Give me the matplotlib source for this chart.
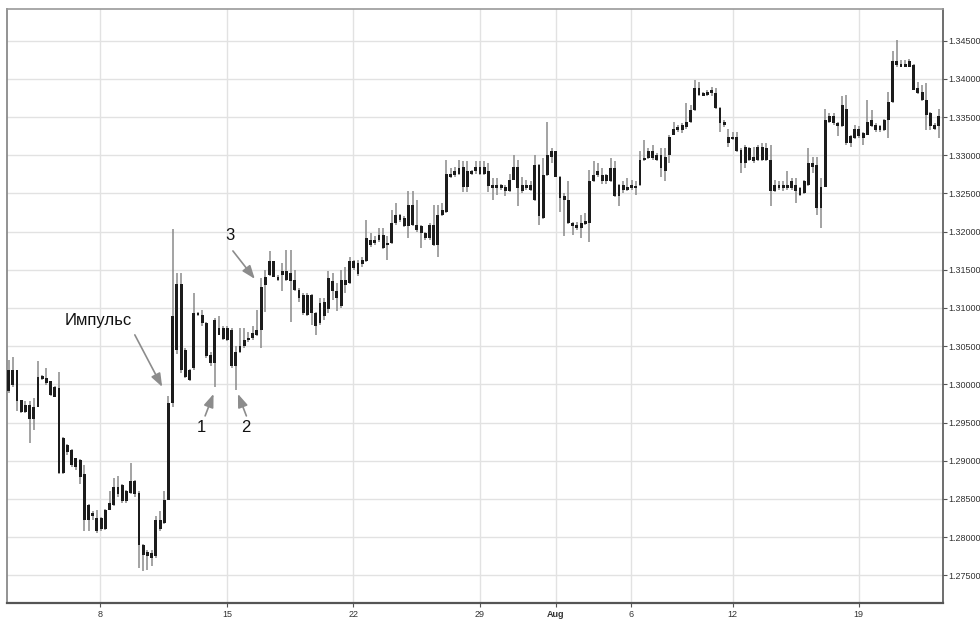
import matplotlib
matplotlib.use('Agg')
import matplotlib.pyplot as plt
import numpy as np

plt.rcParams['font.family'] = ['Liberation Sans', 'DejaVu Sans']

opens = [1.2991, 1.2999, 1.3019, 1.2980, 1.2964, 1.2973, 1.2954, 1.2971, 1.3011, 1.3008,
         1.3004, 1.2984, 1.2995, 1.2884, 1.2921, 1.2914, 1.2892, 1.2901, 1.2882, 1.2823,
         1.2831, 1.2825, 1.2810, 1.2810, 1.2836, 1.2842, 1.2866, 1.2868, 1.2847, 1.2858,
         1.2873, 1.2858, 1.2790, 1.2781, 1.2773, 1.2775, 1.2823, 1.2818, 1.2849, 1.2975,
         1.3045, 1.3132, 1.3045, 1.3019, 1.3021, 1.3093, 1.3091, 1.3080, 1.3039, 1.3028,
         1.3074, 1.3060, 1.3074, 1.3071, 1.3024, 1.3043, 1.3050, 1.3058, 1.3061, 1.3065,
         1.3071, 1.3130, 1.3143, 1.3161, 1.3141, 1.3143, 1.3148, 1.3135, 1.3137, 1.3124,
         1.3117, 1.3091, 1.3117, 1.3093, 1.3080, 1.3108, 1.3099, 1.3135, 1.3122, 1.3102,
         1.3137, 1.3133, 1.3161, 1.3159, 1.3157, 1.3161, 1.3189, 1.3185, 1.3189, 1.3196,
         1.3183, 1.3185, 1.3211, 1.3222, 1.3218, 1.3207, 1.3235, 1.3209, 1.3207, 1.3198,
         1.3191, 1.3209, 1.3183, 1.3222, 1.3226, 1.3276, 1.3274, 1.3276, 1.3285, 1.3259,
         1.3279, 1.3279, 1.3285, 1.3276, 1.3280, 1.3257, 1.3261, 1.3257, 1.3259, 1.3253,
         1.3268, 1.3285, 1.3261, 1.3257, 1.3261, 1.3242, 1.3287, 1.3218, 1.3274, 1.3298,
         1.3305, 1.3272, 1.3246, 1.3242, 1.3211, 1.3209, 1.3205, 1.3211, 1.3211, 1.3266,
         1.3274, 1.3274, 1.3266, 1.3266, 1.3283, 1.3246, 1.3261, 1.3255, 1.3257, 1.3259,
         1.3261, 1.3294, 1.3296, 1.3305, 1.3300, 1.3300, 1.3279, 1.3300, 1.3327, 1.3333,
         1.3340, 1.3337, 1.3344, 1.3359, 1.3388, 1.3378, 1.3379, 1.3381, 1.3381, 1.3362,
         1.3340, 1.3324, 1.3322, 1.3324, 1.3307, 1.3290, 1.3309, 1.3298, 1.3294, 1.3311,
         1.3294, 1.3294, 1.3253, 1.3261, 1.3257, 1.3261, 1.3257, 1.3261, 1.3257, 1.3250,
         1.3261, 1.3290, 1.3287, 1.3231, 1.3259, 1.3344, 1.3351, 1.3342, 1.3338, 1.3361,
         1.3316, 1.3322, 1.3335, 1.3329, 1.3327, 1.3346, 1.3340, 1.3333, 1.3333, 1.3346,
         1.3370, 1.3423, 1.3416, 1.3420, 1.3416, 1.3418, 1.3388, 1.3383, 1.3372, 1.3355,
         1.3335, 1.3338]

highs = [1.3032, 1.3036, 1.3019, 1.2980, 1.2978, 1.2978, 1.2982, 1.3031, 1.3012, 1.3021,
         1.3005, 1.2998, 1.3016, 1.2931, 1.2922, 1.2915, 1.2904, 1.2902, 1.2895, 1.2843,
         1.2834, 1.2836, 1.2826, 1.2837, 1.2860, 1.2877, 1.2880, 1.2869, 1.2862, 1.2897,
         1.2875, 1.2860, 1.2791, 1.2783, 1.2783, 1.2827, 1.2834, 1.2860, 1.2985, 1.3204,
         1.3146, 1.3146, 1.3047, 1.3020, 1.3119, 1.3095, 1.3098, 1.3082, 1.3043, 1.3087,
         1.3089, 1.3076, 1.3076, 1.3074, 1.3050, 1.3074, 1.3074, 1.3069, 1.3076, 1.3098,
         1.3139, 1.3150, 1.3174, 1.3162, 1.3143, 1.3159, 1.3176, 1.3176, 1.3150, 1.3126,
         1.3119, 1.3119, 1.3118, 1.3095, 1.3113, 1.3113, 1.3148, 1.3146, 1.3133, 1.3150,
         1.3154, 1.3167, 1.3163, 1.3163, 1.3167, 1.3215, 1.3198, 1.3194, 1.3205, 1.3205,
         1.3194, 1.3228, 1.3237, 1.3223, 1.3220, 1.3253, 1.3253, 1.3242, 1.3209, 1.3200,
         1.3211, 1.3235, 1.3235, 1.3237, 1.3294, 1.3283, 1.3285, 1.3294, 1.3292, 1.3292,
         1.3281, 1.3292, 1.3292, 1.3292, 1.3290, 1.3270, 1.3270, 1.3263, 1.3261, 1.3276,
         1.3300, 1.3294, 1.3272, 1.3268, 1.3266, 1.3300, 1.3289, 1.3296, 1.3343, 1.3309,
         1.3306, 1.3273, 1.3250, 1.3266, 1.3212, 1.3213, 1.3222, 1.3224, 1.3281, 1.3292,
         1.3290, 1.3283, 1.3276, 1.3296, 1.3292, 1.3262, 1.3266, 1.3270, 1.3268, 1.3266,
         1.3305, 1.3320, 1.3309, 1.3313, 1.3303, 1.3309, 1.3309, 1.3327, 1.3344, 1.3340,
         1.3342, 1.3368, 1.3366, 1.3399, 1.3396, 1.3383, 1.3385, 1.3390, 1.3388, 1.3363,
         1.3346, 1.3335, 1.3331, 1.3331, 1.3309, 1.3313, 1.3311, 1.3311, 1.3313, 1.3316,
         1.3316, 1.3313, 1.3268, 1.3266, 1.3266, 1.3279, 1.3270, 1.3270, 1.3259, 1.3268,
         1.3309, 1.3298, 1.3298, 1.3270, 1.3361, 1.3355, 1.3355, 1.3344, 1.3377, 1.3379,
         1.3327, 1.3340, 1.3338, 1.3331, 1.3372, 1.3359, 1.3342, 1.3340, 1.3348, 1.3383,
         1.3436, 1.3451, 1.3425, 1.3425, 1.3426, 1.3420, 1.3396, 1.3392, 1.3394, 1.3357,
         1.3342, 1.3361]

lows = [1.2989, 1.2997, 1.2965, 1.2962, 1.2963, 1.2923, 1.2940, 1.2970, 1.3006, 1.2999,
        1.2985, 1.2983, 1.2883, 1.2882, 1.2908, 1.2892, 1.2888, 1.2869, 1.2808, 1.2808,
        1.2823, 1.2806, 1.2808, 1.2809, 1.2835, 1.2841, 1.2853, 1.2845, 1.2845, 1.2856,
        1.2853, 1.2760, 1.2755, 1.2757, 1.2762, 1.2773, 1.2808, 1.2817, 1.2848, 1.2970,
        1.3040, 1.3015, 1.3008, 1.3004, 1.3019, 1.3089, 1.3076, 1.3035, 1.3024, 1.2997,
        1.3064, 1.3058, 1.3057, 1.3022, 1.2992, 1.3041, 1.3047, 1.3056, 1.3058, 1.3063,
        1.3047, 1.3095, 1.3142, 1.3140, 1.3135, 1.3122, 1.3135, 1.3082, 1.3122, 1.3108,
        1.3091, 1.3089, 1.3078, 1.3065, 1.3078, 1.3084, 1.3094, 1.3111, 1.3096, 1.3100,
        1.3120, 1.3131, 1.3150, 1.3142, 1.3154, 1.3160, 1.3180, 1.3183, 1.3187, 1.3177,
        1.3163, 1.3184, 1.3209, 1.3213, 1.3206, 1.3191, 1.3208, 1.3200, 1.3178, 1.3189,
        1.3189, 1.3181, 1.3167, 1.3221, 1.3225, 1.3270, 1.3272, 1.3274, 1.3252, 1.3252,
        1.3274, 1.3276, 1.3274, 1.3274, 1.3252, 1.3242, 1.3248, 1.3255, 1.3246, 1.3252,
        1.3267, 1.3233, 1.3250, 1.3255, 1.3253, 1.3240, 1.3209, 1.3216, 1.3273, 1.3290,
        1.3271, 1.3226, 1.3194, 1.3210, 1.3196, 1.3202, 1.3191, 1.3209, 1.3187, 1.3265,
        1.3272, 1.3263, 1.3263, 1.3265, 1.3245, 1.3233, 1.3250, 1.3253, 1.3255, 1.3248,
        1.3260, 1.3292, 1.3295, 1.3294, 1.3292, 1.3272, 1.3266, 1.3290, 1.3326, 1.3331,
        1.3329, 1.3335, 1.3342, 1.3358, 1.3377, 1.3377, 1.3377, 1.3377, 1.3361, 1.3331,
        1.3337, 1.3311, 1.3320, 1.3304, 1.3277, 1.3283, 1.3292, 1.3290, 1.3293, 1.3293,
        1.3293, 1.3233, 1.3252, 1.3255, 1.3253, 1.3255, 1.3255, 1.3237, 1.3247, 1.3249,
        1.3260, 1.3277, 1.3222, 1.3205, 1.3258, 1.3342, 1.3340, 1.3325, 1.3337, 1.3314,
        1.3311, 1.3321, 1.3322, 1.3314, 1.3326, 1.3337, 1.3331, 1.3331, 1.3332, 1.3322,
        1.3369, 1.3416, 1.3415, 1.3415, 1.3415, 1.3385, 1.3380, 1.3371, 1.3333, 1.3333,
        1.3333, 1.3322]

closes = [1.3019, 1.3019, 1.2978, 1.2964, 1.2973, 1.2954, 1.2971, 1.3010, 1.3007, 1.3002,
          1.2986, 1.2997, 1.2884, 1.2930, 1.2912, 1.2895, 1.2903, 1.2879, 1.2823, 1.2842,
          1.2827, 1.2808, 1.2825, 1.2836, 1.2845, 1.2866, 1.2856, 1.2847, 1.2860, 1.2873,
          1.2856, 1.2790, 1.2777, 1.2775, 1.2779, 1.2823, 1.2810, 1.2849, 1.2975, 1.3089,
          1.3132, 1.3019, 1.3010, 1.3006, 1.3093, 1.3091, 1.3080, 1.3037, 1.3028, 1.3084,
          1.3065, 1.3074, 1.3058, 1.3024, 1.3043, 1.3050, 1.3058, 1.3061, 1.3067, 1.3071,
          1.3128, 1.3141, 1.3161, 1.3141, 1.3137, 1.3148, 1.3137, 1.3146, 1.3124, 1.3113,
          1.3093, 1.3117, 1.3093, 1.3076, 1.3106, 1.3089, 1.3139, 1.3122, 1.3113, 1.3137,
          1.3130, 1.3161, 1.3152, 1.3144, 1.3163, 1.3191, 1.3183, 1.3189, 1.3196, 1.3178,
          1.3185, 1.3211, 1.3222, 1.3215, 1.3207, 1.3235, 1.3209, 1.3202, 1.3198, 1.3191,
          1.3209, 1.3183, 1.3222, 1.3228, 1.3276, 1.3272, 1.3279, 1.3283, 1.3259, 1.3279,
          1.3276, 1.3285, 1.3276, 1.3285, 1.3260, 1.3261, 1.3257, 1.3261, 1.3253, 1.3268,
          1.3285, 1.3257, 1.3253, 1.3261, 1.3255, 1.3287, 1.3220, 1.3274, 1.3300, 1.3305,
          1.3272, 1.3244, 1.3242, 1.3211, 1.3207, 1.3205, 1.3211, 1.3213, 1.3266, 1.3274,
          1.3279, 1.3266, 1.3274, 1.3283, 1.3246, 1.3261, 1.3255, 1.3259, 1.3261, 1.3257,
          1.3294, 1.3296, 1.3305, 1.3296, 1.3294, 1.3283, 1.3298, 1.3324, 1.3335, 1.3337,
          1.3333, 1.3344, 1.3359, 1.3388, 1.3379, 1.3381, 1.3383, 1.3385, 1.3362, 1.3342,
          1.3344, 1.3316, 1.3324, 1.3305, 1.3290, 1.3311, 1.3294, 1.3292, 1.3311, 1.3294,
          1.3309, 1.3253, 1.3261, 1.3257, 1.3261, 1.3257, 1.3266, 1.3253, 1.3248, 1.3266,
          1.3290, 1.3285, 1.3231, 1.3259, 1.3346, 1.3351, 1.3342, 1.3338, 1.3366, 1.3316,
          1.3325, 1.3335, 1.3325, 1.3322, 1.3344, 1.3338, 1.3333, 1.3338, 1.3346, 1.3370,
          1.3423, 1.3418, 1.3420, 1.3416, 1.3423, 1.3386, 1.3381, 1.3372, 1.3353, 1.3338,
          1.3340, 1.3351]

xtick_labels = ['8', '15', '22', '29', 'Aug', '6', '12', '19']
ytick_values = [1.275, 1.280, 1.285, 1.290, 1.295, 1.300, 1.305, 1.310,
                1.315, 1.320, 1.325, 1.330, 1.335, 1.340, 1.345]

# annotations: (text, text position, arrow start, arrow tip) in (bar index, price)
annotations = [
    ('Импульс', (21.3, 1.3084), (30.0, 1.30648), (36.5, 1.29967)),
    ('1', (45.9, 1.2943), (46.7, 1.29587), (48.7, 1.29875)),
    ('2', (56.3, 1.2943), (56.5, 1.29587), (54.5, 1.29875)),
    ('3', (52.6, 1.31944), (53.3, 1.31747), (58.5, 1.31381)),
]

o = np.array(opens); h = np.array(highs); l = np.array(lows); c = np.array(closes)
n = len(o)
x = np.arange(n)

fig = plt.figure(figsize=(9.8, 6.19), dpi=100)
ax = fig.add_axes([7/980, 16/619, 936/980, 594/619])

ax.set_xlim(-0.36, 221.97)
ax.set_ylim(1.27137, 1.34915)

xtick_pos = [21.7, 52.0, 81.9, 112.0, 130.0, 147.9, 172.0, 201.9]
ax.set_xticks(xtick_pos)
ax.set_xticklabels(xtick_labels)
for lab in ax.get_xticklabels():
    if lab.get_text() == 'Aug':
        lab.set_fontweight('bold')
ax.set_yticks(ytick_values)
ax.set_yticklabels(['%.5f' % v for v in ytick_values])
ax.yaxis.tick_right()

ax.set_axisbelow(True)
ax.grid(True, color='#e2e2e2', lw=1.0)

ax.tick_params(axis='y', length=3, width=0.8, color='#555', labelsize=6.5,
               labelcolor='#333', pad=1)
ax.tick_params(axis='x', length=3, width=0.8, color='#555', labelsize=6.5,
               labelcolor='#333', pad=2)

for side, col, lw in [('left', '#8a8a8a', 1.3), ('top', '#9a9a9a', 1.2),
                      ('right', '#555555', 1.2), ('bottom', '#555555', 1.6)]:
    ax.spines[side].set_color(col)
    ax.spines[side].set_linewidth(lw)

# wicks
ax.vlines(x, l, h, color='#8a8a8a', lw=1.1, zorder=2)
# bodies
bot = np.minimum(o, c)
top = np.maximum(o, c)
hgt = top - bot
minh = 0.00028
mid = (top + bot) / 2
small = hgt < minh
bot = np.where(small, mid - minh / 2, bot)
hgt = np.where(small, minh, hgt)
ax.bar(x, hgt, width=0.68, bottom=bot, color='#1c1c1c', lw=0, zorder=3)

for txt, tpos, a0, a1 in annotations:
    ax.annotate('', xy=a1, xytext=a0,
                arrowprops=dict(arrowstyle='-|>,head_length=0.8,head_width=0.3',
                                color='#8c8c8c', lw=1.2, shrinkA=0, shrinkB=0),
                zorder=5)
    ax.text(tpos[0], tpos[1], txt, ha='center', va='center', fontsize=12,
            color='#111111', zorder=6)

fig.savefig('out.png', dpi=100)
